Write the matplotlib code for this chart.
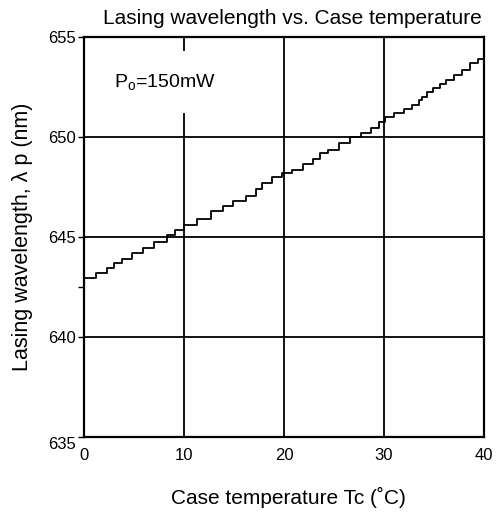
import matplotlib
matplotlib.use('Agg')
import matplotlib.pyplot as plt

plt.rcParams['font.family'] = ['Liberation Sans', 'DejaVu Sans']
plt.rcParams['mathtext.fontset'] = 'custom'
plt.rcParams['mathtext.rm'] = 'Liberation Sans'
plt.rcParams['mathtext.it'] = 'Liberation Sans:italic'

# step positions (case temperature, deg C) and wavelength level after each step (nm)
temps = [0, 1.15, 2.3, 3.0, 3.8, 4.8, 5.9, 7.0, 8.3, 9.1,
         10.0, 11.3, 12.7, 13.9, 14.9, 16.2, 17.2, 17.8, 18.8, 19.8,
         20.8, 21.9, 22.9, 23.6, 24.4, 25.5, 26.6, 27.7, 28.7, 29.5,
         30.1, 31.0, 32.0, 32.8, 33.5, 33.8, 34.3, 34.9, 35.6, 36.2,
         37.0, 37.8, 38.6, 39.4, 40]
wavelengths = [642.97, 643.22, 643.43, 643.68, 643.92, 644.18, 644.45, 644.74, 645.1, 645.35,
               645.62, 645.9, 646.3, 646.55, 646.82, 647.07, 647.38, 647.72, 648.02, 648.18,
               648.35, 648.65, 648.88, 649.18, 649.35, 649.72, 649.98, 650.22, 650.47, 650.75,
               651.02, 651.22, 651.42, 651.62, 651.85, 652.0, 652.25, 652.47, 652.65, 652.85,
               653.1, 653.35, 653.68, 653.88, 653.88]

x_ticks = [0, 10, 20, 30, 40]
y_ticks = [635, 640, 645, 650, 655]
y_minor = [642.5]

fig = plt.figure(figsize=(4.99, 5.15), dpi=100)
ax = fig.add_axes([0.1693, 0.1515, 0.8, 0.7767])

ax.step(temps, wavelengths, where='post', color='black', linewidth=1.3, zorder=2)

ax.set_xlim(0, 40)
ax.set_ylim(635, 655)
ax.set_xticks(x_ticks)
ax.set_yticks(y_ticks)
ax.set_yticks(y_minor, minor=True)
ax.tick_params(axis='x', length=0, labelsize=12, pad=8)
ax.tick_params(axis='y', which='both', length=4, width=1, direction='out', labelsize=12, pad=2)
ax.grid(True, color='black', linewidth=1.3)
ax.set_axisbelow(True)
for s in ax.spines.values():
    s.set_linewidth(1.6)
ax.get_yticklabels()[0].set_va('top')

ax.text(3.0, 652.75, 'P$_\\mathrm{o}$=150mW', fontsize=14, va='center', ha='left',
        zorder=3, bbox=dict(facecolor='white', edgecolor='none', boxstyle='square,pad=1.1'))

ax.set_title('Lasing wavelength vs. Case temperature', fontsize=15, pad=9, x=0.52)
ax.set_xlabel('Case temperature Tc (\u02daC)', fontsize=15, labelpad=17, x=0.51)
ax.set_ylabel('Lasing wavelength, \u03bb p (nm)', fontsize=15.5, labelpad=11)

plt.savefig('out.png', dpi=100)
